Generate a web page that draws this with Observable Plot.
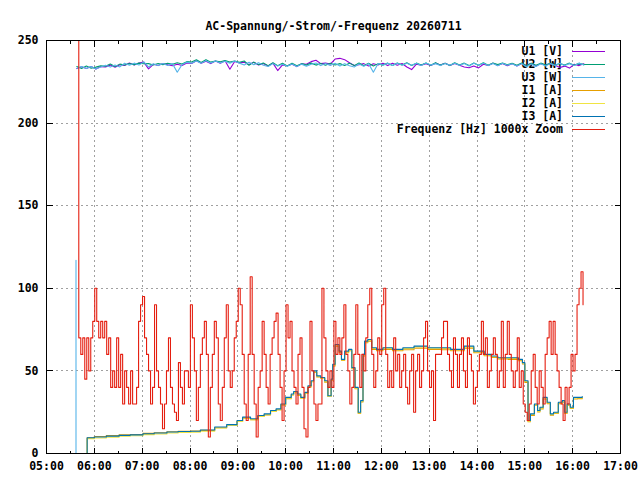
<!DOCTYPE html>
<html>
<head>
<meta charset="utf-8">
<script src="https://cdn.jsdelivr.net/npm/d3@7"></script>
<script src="https://cdn.jsdelivr.net/npm/@observablehq/plot@0.6"></script>
<style>
  body { margin: 0; background: #fff; }
  #chart svg { display: block; }
</style>
</head>
<body>
<div id="chart"></div>
<script>
// ---------- labels ----------
const chartTitle = "AC-Spannung/-Strom/-Frequenz 20260711";
const xTickLabels = ["05:00","06:00","07:00","08:00","09:00","10:00","11:00","12:00","13:00","14:00","15:00","16:00","17:00"];
const xMinorLabels = ["05:30","06:30","07:30","08:30","09:30","10:30","11:30","12:30","13:30","14:30","15:30","16:30"];
const yTicks = [0, 50, 100, 150, 200, 250];
const seriesNames = ["U1 [V]","U2 [W]","U3 [W]","I1 [A]","I2 [A]","I3 [A]","Frequenz [Hz] 1000x Zoom"];
const seriesColors = ["#9400d3","#009e73","#56b4e9","#e69f00","#f0e442","#0072b2","#e51e10"];

// ---------- voltages (every 6 min from 05:38) ----------
const voltStart = "05:38";
const voltStepMin = 6;
const u1 = [233.0,234.1,233.1,234.3,232.7,234.2,234.0,235.1,233.8,235.3,
  234.9,236.4,235.1,236.4,236.9,232.8,235.6,234.9,236.1,235.3,
  234.7,235.6,234.9,236.4,236.1,237.7,236.3,237.5,236.0,237.6,
  236.2,237.8,232.6,237.3,236.4,236.9,235.4,236.8,235.2,236.0,
  234.6,236.3,231.8,235.2,234.7,235.6,234.2,235.9,235.6,237.2,
  238.0,236.0,236.3,235.7,238.8,239.2,238.4,236.5,234.9,235.3,
  236.0,234.6,235.9,235.2,236.2,234.8,236.2,235.0,236.1,234.0,
  232.4,235.7,235.1,236.0,234.9,236.3,235.1,236.2,234.8,236.1,
  235.0,234.0,233.5,234.6,233.4,235.6,234.9,236.3,234.8,236.1,
  234.7,236.0,234.6,236.1,234.9,236.2,234.6,236.0,235.2,236.0,
  235.0,233.6,234.5,233.3,235.6,234.8,235.9];
const u2 = [234.2,233.1,234.5,233.2,233.9,234.7,234.4,235.8,234.3,235.7,
  235.2,236.0,235.4,236.3,235.9,236.0,235.2,236.1,235.4,236.2,
  235.6,236.5,235.8,237.2,237.0,238.3,236.7,238.4,236.9,237.6,
  237.1,237.9,236.9,237.6,236.8,237.6,235.0,236.9,235.4,236.4,
  234.8,236.5,234.7,236.2,234.6,236.2,234.7,236.0,235.1,236.3,
  235.1,236.1,235.0,236.2,235.2,236.0,234.9,236.3,234.8,236.4,
  234.7,236.2,234.6,236.0,235.1,236.3,234.9,236.4,235.2,236.5,
  234.9,236.3,235.2,236.4,235.0,236.6,235.1,236.2,234.9,236.5,
  235.1,236.3,234.8,236.4,235.0,236.5,235.0,236.4,235.4,236.3,
  235.3,236.2,235.0,236.4,234.8,236.2,235.0,236.3,235.1,236.2,
  235.2,236.1,235.1,236.3,235.0,236.2,235.4];
const u3 = [233.2,234.3,233.0,234.2,232.8,233.9,235.0,233.9,235.2,234.0,
  236.2,235.0,236.3,235.1,237.0,234.0,235.9,234.8,236.1,234.9,
  236.0,230.8,235.4,236.9,236.2,237.6,236.3,237.8,236.4,237.6,
  236.4,237.5,236.2,237.6,236.3,235.2,236.8,235.3,236.6,235.0,
  234.3,236.0,234.6,235.6,234.4,235.8,234.2,235.7,234.4,235.6,
  236.4,234.8,236.1,234.9,236.2,234.6,236.0,234.7,234.0,235.8,
  234.4,236.0,230.8,236.1,235.0,236.3,234.9,236.3,235.0,236.2,
  235.0,236.3,234.9,236.4,235.1,236.0,234.8,236.1,235.0,236.3,
  235.0,236.1,234.6,236.2,235.0,236.3,234.8,236.1,234.7,236.2,
  235.0,235.9,234.6,236.0,234.0,235.8,234.3,235.9,234.6,236.0,
  234.8,236.2,234.9,236.0,234.9,236.3,235.2];
// U3 switch-on edge
const u3EdgeTimes = ["05:37","05:37"];
const u3EdgeValues = [0, 117];

// ---------- currents ----------
const currentTimes = ["05:50","05:51","06:00","06:15","06:31","06:45","07:01","07:15","07:31","07:45",
  "08:01","08:13","08:31","08:46","08:59","09:06","09:16","09:25","09:33","09:41",
  "09:48","09:54","10:00","10:07","10:10","10:15","10:19","10:24","10:28","10:32",
  "10:35","10:39","10:44","10:49","10:53","10:57","10:59","11:02","11:07","11:10",
  "11:14","11:19","11:23","11:27","11:31","11:34","11:37","11:39","11:43","11:48",
  "11:54","12:02","12:14","12:27","12:41","12:58","13:15","13:27","13:44","13:56",
  "14:09","14:18","14:26","14:39","14:52","14:57","15:00","15:04","15:07","15:12",
  "15:16","15:19","15:23","15:28","15:32","15:36","15:42","15:47","15:50","15:53",
  "15:57","16:01","16:06","16:12"];
const i1 = [0,9.5,10.3,10.8,11.3,11.5,12.2,12.6,13.2,13.5,
  13.6,14.0,15.6,17.0,19.5,21.4,20.5,22.5,23.4,25.4,
  26.5,29.4,33.2,35.4,36.8,35.2,33.4,36.4,40.3,43.4,
  49.0,46.3,45.4,43.2,34.5,44.3,53.0,65.0,61.2,56.4,
  61.0,62.2,51.3,39.2,24.2,31.2,59.0,67.0,68.0,63.0,
  62.2,63.0,62.2,62.8,63.8,63.0,62.8,62.2,63.8,61.0,
  59.2,58.2,57.2,57.0,56.2,54.2,43.0,19.2,23.0,29.2,
  25.2,27.0,33.0,30.2,23.2,24.2,30.2,31.0,24.2,29.2,
  27.2,33.0,33.2,33.6];
const i2 = [0,9.0,9.4,9.9,10.4,10.7,11.4,11.8,12.4,12.7,
  12.9,13.5,15.4,17.0,19.4,21.5,20.4,22.4,23.5,25.5,
  26.4,29.5,33.5,35.6,37.0,35.5,33.5,36.5,40.6,43.6,
  49.4,46.5,45.5,43.5,34.6,44.5,53.5,65.6,61.6,56.6,
  61.5,62.6,51.6,39.5,24.5,31.6,59.5,67.6,68.6,63.6,
  62.8,63.8,62.8,63.6,64.6,63.8,63.6,62.8,64.5,61.6,
  59.6,58.6,57.6,57.6,56.6,54.6,43.6,19.6,23.6,29.6,
  25.6,27.6,33.6,30.6,23.6,24.6,30.6,31.6,24.6,29.6,
  27.6,33.6,33.6,34.0];
const i3 = [0,9.5,10,10.5,11,11.3,12,12.4,13,13.3,
  13.5,14.2,16,17.5,20,22,21,23,24,26,
  27,30,34,36,37.5,36,34,37,41,44,
  50,47,46,44,35,45,54,66,62,57,
  62,63,52,40,25,32,60,68,69,64,
  63,64,63,64,65,64,64,63,65,62,
  60,59,58,58,57,55,44,20,24,30,
  26,28,34,31,24,25,31,32,25,30,
  28,34,34,34.5];

// ---------- frequency, (f-50 Hz)*1000, every 2.5 min from 05:38 ----------
const freqStart = "05:38";
const freqStepMin = 2.5;
const freq = [260,70,60,70,45,70,50,70,80,100,
  80,70,80,70,80,60,70,40,50,40,
  70,40,60,30,50,40,30,50,30,30,
  40,80,90,95,70,60,50,30,40,90,
  50,40,30,15,30,50,70,40,30,25,
  20,55,40,30,50,50,40,90,70,50,
  20,40,60,70,80,60,10,40,60,80,
  70,30,20,40,70,90,50,40,50,70,
  80,100,90,60,30,20,60,107,60,30,
  10,40,50,80,60,40,30,60,70,80,
  85,60,40,20,50,90,70,80,50,40,
  30,60,70,40,15,10,40,80,50,30,
  20,30,30,100,70,50,40,50,40,80,
  60,70,60,70,90,60,50,30,40,60,
  90,60,40,60,50,70,90,100,60,40,
  50,70,60,90,100,60,40,50,40,70,
  50,60,40,50,60,40,30,50,60,25,
  50,60,40,50,70,80,50,40,50,20,
  60,60,60,70,80,80,60,50,40,70,
  60,40,60,70,50,40,70,60,50,30,
  40,50,60,80,60,70,40,50,60,70,
  60,40,50,80,40,60,80,60,50,40,
  50,70,40,50,30,25,20,30,50,60,
  40,30,50,40,30,60,70,80,60,80,
  60,50,40,30,20,40,30,40,60,50,
  60,90,100,110,90];

// ---------- build tables ----------
const toMin = s => { const [h, m] = s.split(":").map(Number); return h * 60 + m; };
const seqRows = (start, step, vals) => vals.map((v, i) => ({t: toMin(start) + i * step, v}));
const pairRows = (times, vals) => vals.map((v, i) => ({t: toMin(times[i]), v}));

const u1Rows = seqRows(voltStart, voltStepMin, u1);
const u2Rows = seqRows(voltStart, voltStepMin, u2);
const u3Rows = [...pairRows(u3EdgeTimes, u3EdgeValues), {t: toMin(u3EdgeTimes[1]), v: NaN}, ...seqRows(voltStart, voltStepMin, u3)];
const i1Rows = pairRows(currentTimes, i1);
const i2Rows = pairRows(currentTimes, i2);
const i3Rows = pairRows(currentTimes, i3);
const freqRows = seqRows(freqStart, freqStepMin, freq);

const xMajor = xTickLabels.map(toMin);
const xMinor = xMinorLabels.map(toMin);
const labelOf = m => xTickLabels[xMajor.indexOf(m)];

const FONT = "'DejaVu Sans Mono', 'Liberation Mono', monospace";

// gnuplot-like frame with inward ticks (mirrored)
function frameTicks(index, scales, values, dimensions) {
  const {width, height, marginLeft, marginRight, marginTop, marginBottom} = dimensions;
  const x0 = marginLeft, x1 = width - marginRight, y0 = marginTop, y1 = height - marginBottom;
  const g = d3.create("svg:g").attr("fill", "none").attr("stroke", "black").attr("stroke-width", 1)
    .attr("shape-rendering", "crispEdges").attr("transform", "translate(0.5,0.5)");
  const seg = (a, b, c, d) => g.append("line").attr("x1", a).attr("y1", b).attr("x2", c).attr("y2", d);
  for (const m of xMajor) { const px = Math.round(scales.x(m)); seg(px, y1, px, y1 - 6); seg(px, y0, px, y0 + 6); }
  for (const m of xMinor) { const px = Math.round(scales.x(m)); seg(px, y1, px, y1 - 3); seg(px, y0, px, y0 + 3); }
  for (const v of yTicks) { const py = Math.round(scales.y(v)); seg(x0, py, x0 + 6, py); seg(x1, py, x1 - 6, py); }
  g.append("rect").attr("x", x0).attr("y", y0).attr("width", x1 - x0).attr("height", y1 - y0);
  return g.node();
}

// key, top right inside the frame
function legendKey(index, scales, values, dimensions) {
  const {width, marginRight, marginTop} = dimensions;
  const xr = width - marginRight;
  const g = d3.create("svg:g");
  seriesNames.forEach((name, k) => {
    const y = Math.round(marginTop + 10.5 + k * 13.1);
    g.append("text").attr("x", xr - 57).attr("y", y).attr("dy", "0.35em")
      .attr("text-anchor", "end").attr("fill", "black").text(name);
    g.append("line").attr("x1", xr - 48).attr("x2", xr - 15).attr("y1", y + 0.5).attr("y2", y + 0.5)
      .attr("stroke", seriesColors[k]).attr("stroke-width", 1.2);
  });
  return g.node();
}

const lineOpts = (k, curve) => ({x: "t", y: "v", stroke: seriesColors[k], strokeWidth: 1.1, curve, clip: true});

const chart = Plot.plot({
  width: 640,
  height: 480,
  marginLeft: 46,
  marginRight: 20,
  marginTop: 40,
  marginBottom: 27,
  style: {fontFamily: FONT, fontSize: "11.5px", fontWeight: "bold", background: "#fff", color: "#000", overflow: "visible"},
  x: {domain: [300, 1020]},
  y: {domain: [0, 250]},
  marks: [
    Plot.gridX(xMajor.slice(1, -1), {stroke: "#a0a0a0", strokeOpacity: 1, strokeDasharray: "2,3", shapeRendering: "crispEdges"}),
    Plot.gridY(yTicks.slice(1, -1), {stroke: "#a0a0a0", strokeOpacity: 1, strokeDasharray: "2,3", shapeRendering: "crispEdges"}),
    Plot.axisX(xMajor, {tickSize: 0, tickPadding: 8, tickFormat: labelOf, label: null, fontWeight: "bold"}),
    Plot.axisY(yTicks, {tickSize: 0, tickPadding: 8, label: null, fontWeight: "bold"}),
    legendKey,
    Plot.line(u1Rows, lineOpts(0, "linear")),
    Plot.line(u2Rows, lineOpts(1, "linear")),
    Plot.line(u3Rows, lineOpts(2, "linear")),
    Plot.line(i1Rows, lineOpts(3, "step-after")),
    Plot.line(i2Rows, lineOpts(4, "step-after")),
    Plot.line(i3Rows, lineOpts(5, "step-after")),
    Plot.line(freqRows, lineOpts(6, "step-after")),
    frameTicks,
    Plot.text([chartTitle], {text: d => d, frameAnchor: "top", dy: -19, fontWeight: "bold"})
  ]
});
document.getElementById("chart").appendChild(chart);
</script>
</body>
</html>
